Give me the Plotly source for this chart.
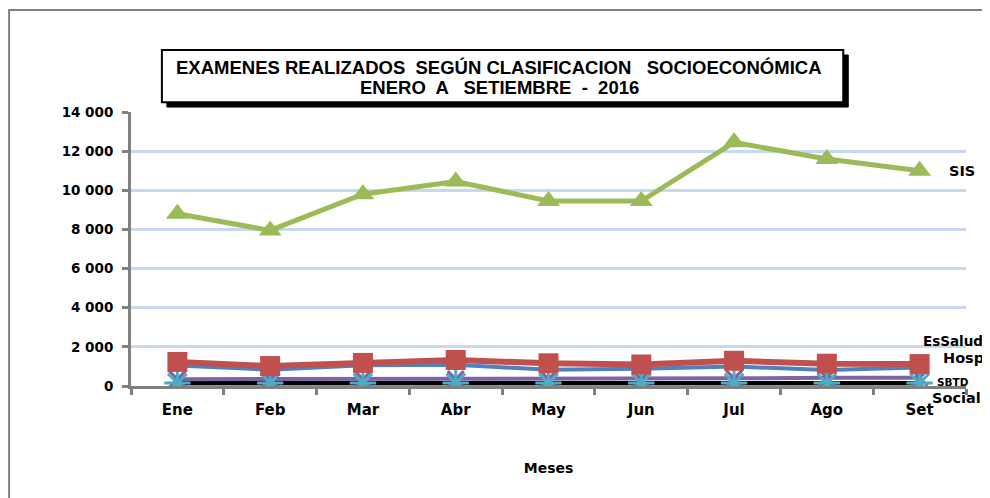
import plotly.graph_objects as go

meses = ["Ene", "Feb", "Mar", "Abr", "May", "Jun", "Jul", "Ago", "Set"]
sis = [8800, 7950, 9800, 10450, 9450, 9450, 12450, 11600, 11000]
hosp = [1230, 1020, 1180, 1330, 1160, 1100, 1290, 1140, 1120]
essalud = [1050, 830, 1060, 1090, 830, 880, 990, 820, 950]
sbtd = [350, 350, 350, 350, 360, 360, 390, 420, 420]
social = [150, 150, 150, 150, 150, 150, 150, 150, 150]
otros = [0, 0, 0, 0, 0, 0, 0, 0, 0]
y_ticks = [0, 2000, 4000, 6000, 8000, 10000, 12000, 14000]
y_labels = ["0", "2 000", "4 000", "6 000", "8 000", "10 000", "12 000", "14 000"]

fig = go.Figure()
fig.add_trace(go.Scatter(x=meses, y=otros, mode="lines", name="Otros",
                         line=dict(color="#4bacc6", width=3)))
fig.add_trace(go.Scatter(x=meses, y=social, mode="lines", name="Social",
                         line=dict(color="#000000", width=4)))
fig.add_trace(go.Scatter(x=meses, y=sbtd, mode="lines+markers", name="SBTD",
                         line=dict(color="#8064a2", width=4),
                         marker=dict(symbol="x-thin-open", size=16, color="#8064a2",
                                     line=dict(color="#8064a2", width=3))))
fig.add_trace(go.Scatter(x=meses, y=social, mode="markers", name="Social",
                         marker=dict(symbol="asterisk-open", size=22, color="#4bacc6",
                                     line=dict(color="#4bacc6", width=3))))
fig.add_trace(go.Scatter(x=meses, y=essalud, mode="lines", name="EsSalud",
                         line=dict(color="#4f81bd", width=4)))
fig.add_trace(go.Scatter(x=meses, y=hosp, mode="lines+markers", name="Hosp",
                         line=dict(color="#c0504d", width=6),
                         marker=dict(symbol="square", size=20, color="#c0504d")))
fig.add_trace(go.Scatter(x=meses, y=sis, mode="lines+markers", name="SIS",
                         line=dict(color="#9bbb59", width=5),
                         marker=dict(symbol="triangle-up", size=20, color="#9bbb59")))

fig.update_layout(
    width=982, height=490,
    margin=dict(l=123, r=24, t=104, b=112),
    paper_bgcolor="white", plot_bgcolor="white",
    showlegend=False,
    xaxis=dict(type="category", range=[-0.5, 8.5], autorange=False, showgrid=False,
               showline=True, linecolor="#808080", automargin=False,
               linewidth=3, ticks="outside", tickson="boundaries", ticklen=6,
               tickwidth=3, tickcolor="#808080", ticklabelstandoff=8,
               tickvals=meses, ticktext=["<b>%s</b>" % m for m in meses],
               tickfont=dict(family="DejaVu Sans", size=15, color="#000"),
               title=dict(text="<b>Meses</b>", font=dict(family="DejaVu Sans", size=14, color="#000"),
                          standoff=46)),
    yaxis=dict(range=[0, 14000], autorange=False, tickvals=y_ticks,
               ticktext=["<b>%s</b>" % t for t in y_labels], automargin=False,
               showgrid=True, gridcolor="#c6d9f1", gridwidth=3, showline=True,
               linecolor="#808080", linewidth=3, ticks="outside", ticklen=6, tickwidth=3,
               tickcolor="#808080", ticklabelstandoff=6,
               tickfont=dict(family="DejaVu Sans", size=13.5, color="#000000"), zeroline=False),
)

# outer border
fig.add_shape(type="rect", xref="paper", yref="paper", x0=-0.146, x1=1.05, y0=-0.45, y1=1.372,
              line=dict(color="#808080", width=2), fillcolor="rgba(0,0,0,0)", layer="below")
# title box with shadow
fig.add_shape(type="rect", xref="paper", yref="paper", x0=0.043, x1=0.859, y0=1.018, y1=1.208,
              line=dict(color="#000", width=1), fillcolor="#000")
fig.add_shape(type="rect", xref="paper", yref="paper", x0=0.037, x1=0.853, y0=1.036, y1=1.226,
              line=dict(color="#000", width=2), fillcolor="#ffffff")
title_font = dict(family="Liberation Sans", size=18.5, color="#000")
fig.add_annotation(xref="paper", yref="paper", x=0.441, y=1.161, showarrow=False,
                   xanchor="center", yanchor="middle",
                   text="<b>EXAMENES REALIZADOS  SEGÚN CLASIFICACION   SOCIOECONÓMICA</b>",
                   font=title_font)
fig.add_annotation(xref="paper", yref="paper", x=0.441, y=1.088, showarrow=False,
                   xanchor="center", yanchor="middle",
                   text="<b>ENERO  A   SETIEMBRE  -  2016</b>",
                   font=title_font)

lab = dict(family="DejaVu Sans", color="#000")
fig.add_annotation(x="Set", y=10985, xref="x", yref="y", text="<b>SIS</b>", showarrow=False,
                   xanchor="left", yanchor="middle", xshift=27, font=dict(size=14.5, **lab))
fig.add_annotation(x="Set", y=2300, xref="x", yref="y", text="<b>EsSalud</b>", showarrow=False,
                   xanchor="left", yanchor="middle", xshift=1, font=dict(size=13.5, **lab))
fig.add_annotation(x="Set", y=1430, xref="x", yref="y", text="<b>Hosp</b>", showarrow=False,
                   xanchor="left", yanchor="middle", xshift=21, font=dict(size=14.5, **lab))
fig.add_annotation(x="Set", y=204, xref="x", yref="y", text="<b>SBTD</b>", showarrow=False,
                   xanchor="left", yanchor="middle", xshift=15, font=dict(size=10.5, **lab))
fig.add_annotation(x="Set", y=-0.044, xref="x", yref="paper", text="<b>Social</b>", showarrow=False,
                   xanchor="left", yanchor="middle", xshift=10, font=dict(size=14.5, **lab))

fig.write_html("out.html")
